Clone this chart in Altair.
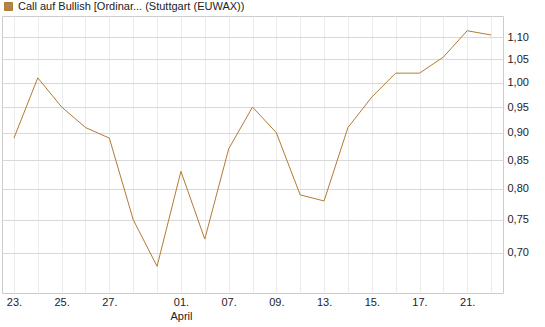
import altair as alt
import pandas as pd

days = ["23.", "24.", "25.", "26.", "27.", "30.", "31.", "01.", "02.", "07.", "08.",
        "09.", "10.", "13.", "14.", "15.", "16.", "17.", "20.", "21.", "22."]
prices = [0.89, 1.01, 0.95, 0.91, 0.89, 0.75, 0.68, 0.83, 0.72, 0.87, 0.95,
          0.90, 0.79, 0.78, 0.91, 0.97, 1.02, 1.02, 1.055, 1.115, 1.105]
shown_labels = ["23.", "25.", "27.", "01.", "07.", "09.", "13.", "15.", "17.", "21."]
y_ticks = [0.70, 0.75, 0.80, 0.85, 0.90, 0.95, 1.00, 1.05, 1.10]
series_name = "Call auf Bullish [Ordinar... (Stuttgart (EUWAX))"
line_color = "#b07c34"

df = pd.DataFrame({"day": days, "price": prices, "series": series_name})

shown_expr = "[" + ",".join("'" + s + "'" for s in shown_labels) + "]"
label_expr = (f"datum.value == '01.' ? ['01.', 'April'] : "
              f"(indexof({shown_expr}, datum.value) >= 0 ? datum.value : '')")

chart = alt.Chart(df).mark_line(strokeWidth=1).encode(
    x=alt.X("day:O", sort=days, title=None,
            scale=alt.Scale(type="point", padding=0.5),
            axis=alt.Axis(labelExpr=label_expr, labelAngle=0, ticks=False,
                          domain=False, grid=True, gridColor="#ebebeb",
                          labelFont="Liberation Sans", labelFontSize=11,
                          labelColor="#222", labelPadding=3, labelLineHeight=14)),
    y=alt.Y("price:Q", title=None,
            scale=alt.Scale(type="log", domain=[0.643, 1.15], nice=False, zero=False),
            axis=alt.Axis(orient="right", values=y_ticks, ticks=False, domain=False,
                          gridColor="#d9d9d9",
                          labelExpr="replace(format(datum.value, '.2f'), '.', ',')",
                          labelFont="Liberation Sans", labelFontSize=11,
                          labelColor="#222", labelPadding=4)),
    color=alt.Color("series:N",
                    scale=alt.Scale(domain=[series_name], range=[line_color]),
                    legend=alt.Legend(title=None, orient="none", legendX=1, legendY=-15,
                                      symbolType="square", symbolFillColor="#b0854d",
                                      symbolStrokeColor="#333333", symbolStrokeWidth=1,
                                      symbolOpacity=1,
                                      symbolSize=64, padding=0, labelLimit=500,
                                      labelFont="Liberation Sans", labelFontSize=11,
                                      labelColor="#222", labelOffset=4)),
).properties(
    width=501, height=277,
    padding={"left": 2, "top": 16, "right": 42, "bottom": 34},
    autosize=alt.AutoSizeParams(type="none"),
).configure_view(stroke="#cccccc", strokeWidth=1)

chart.save("out.html", embed_options={"renderer": "svg", "actions": False})
